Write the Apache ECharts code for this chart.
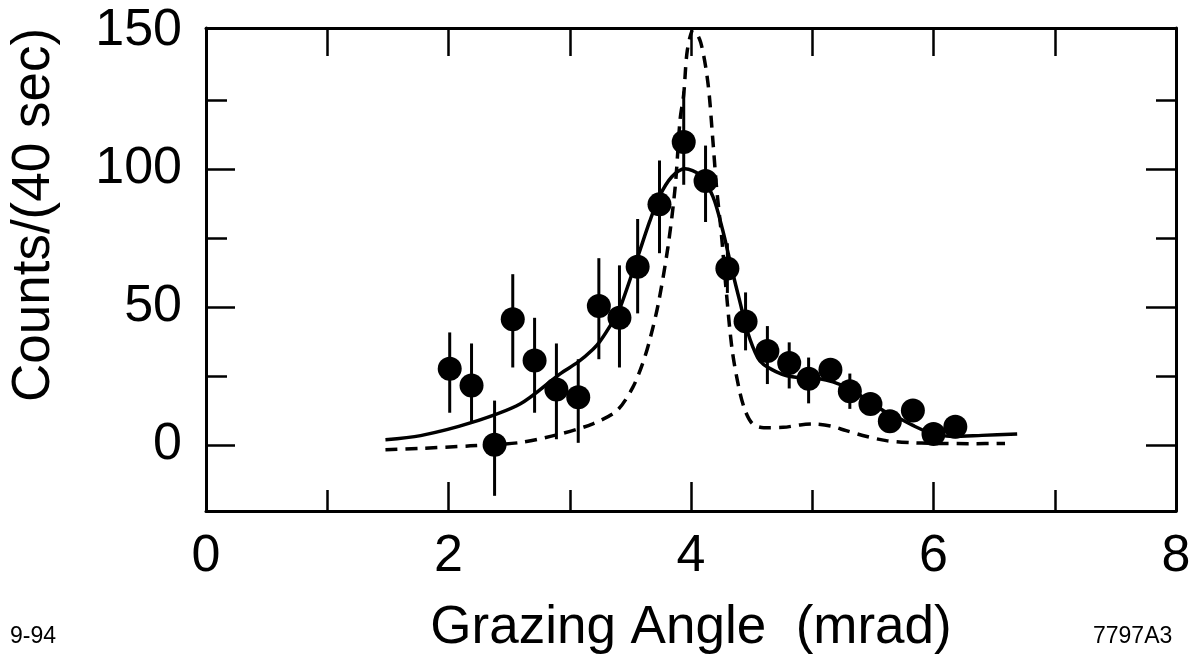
<!DOCTYPE html>
<html>
<head>
<meta charset="utf-8">
<script src="https://cdn.jsdelivr.net/npm/echarts@6/dist/echarts.min.js"></script>
<style>
  html, body { margin: 0; padding: 0; background: #fff; }
  #chart { width: 1198px; height: 663px; }
</style>
</head>
<body>
<div id="chart"></div>
<script>
// measured points
const angle = [2.01, 2.19, 2.38, 2.53, 2.71, 2.89, 3.07, 3.24, 3.41, 3.56, 3.74, 3.94, 4.12, 4.30, 4.45, 4.63, 4.81, 4.97, 5.15, 5.31, 5.48, 5.64, 5.83, 6.00, 6.18];
const counts = [27.5, 21.5, 0, 45.5, 30.5, 20, 17.2, 50.3, 46, 64.5, 87.1, 109.7, 95.6, 63.9, 44.7, 34, 29.6, 23.9, 27.2, 19.4, 14.8, 8.5, 12.4, 3.9, 6.5];
const errLow = [11.6, 8, -18.5, 28, 11.6, 2, 0.7, 31, 28, 47.6, 69.4, 94.2, 80.7, 55, 34.2, 22, 20.4, 15, 23, 13, 11, 5, 9, 1, 3];
const errHigh = [40.7, 36.7, 16, 61.8, 46, 36.7, 31, 67.6, 65, 81.8, 103, 128, 108.4, 73, 55.2, 43, 37.1, 31.6, 31, 25.8, 18.6, 12, 16, 7, 10];

// fitted curve (solid)
const fitX = [1.48, 1.77, 2.18, 2.59, 2.92, 3.07, 3.19, 3.25, 3.36, 3.41, 3.56, 3.66, 3.74, 3.84, 3.95, 4.07, 4.18, 4.26, 4.34, 4.40, 4.47, 4.55, 4.60, 4.70, 4.79, 4.90, 5.06, 5.17, 5.28, 5.40, 5.50, 5.60, 5.72, 5.83, 5.94, 6.05, 6.16, 6.40, 6.69];
const fitY = [1.8, 3.3, 7.9, 14.8, 25.7, 30, 34.5, 37.5, 45, 49, 68, 81, 90, 97, 100, 97.8, 90, 78, 63, 52.4, 40.4, 31.5, 29, 26.5, 25, 24.3, 23.9, 22.8, 20.8, 17.8, 14.9, 12, 9.5, 7, 4.8, 3.5, 3, 3.4, 3.9];

// dashed curve
const dashX = [1.48, 1.77, 2.18, 2.59, 2.92, 3.19, 3.39, 3.52, 3.60, 3.66, 3.73, 3.81, 3.87, 3.91, 3.94, 3.97, 4.02, 4.08, 4.14, 4.18, 4.21, 4.25, 4.29, 4.34, 4.40, 4.45, 4.51, 4.60, 4.76, 4.90, 5.01, 5.15, 5.28, 5.45, 5.61, 5.80, 6.00, 6.30, 6.59];
const dashY = [-1.8, -1.3, -0.4, 0.8, 3.9, 7.6, 12.4, 20.8, 29.3, 38, 51, 71.7, 93.6, 117.8, 127, 143, 150.5, 145.8, 131, 110.5, 93.6, 76.6, 56, 34.2, 19.6, 12, 7.5, 6.2, 6.3, 7.2, 7.5, 6.8, 5.1, 3, 1.5, 0.8, 0.5, 0.4, 0.5];

const xLabels = [0, 2, 4, 6, 8];
const xMajor = [2, 4, 6];
const xMinor = [1, 3, 5, 7];
const xTop = [1, 2, 3, 4, 5, 6, 7];
const yLabels = [0, 50, 100, 150];
const yMajor = [0, 50, 100];
const yMinor = [25, 75, 125];

const chart = echarts.init(document.getElementById('chart'));
const font = '"Liberation Sans", Arial, sans-serif';
const black = '#000';

function xAxisDef(pos, ticks, len, showLabel, show) {
  return {
    type: 'value', min: 0, max: 8, position: pos,
    axisLine: { show: show, onZero: false, lineStyle: { color: black, width: 3 } },
    axisTick: { show: true, inside: true, length: len, customValues: ticks, lineStyle: { color: black, width: 2.5 } },
    axisLabel: { show: showLabel, customValues: xLabels, color: black, fontSize: 52, fontFamily: font, margin: 20 },
    splitLine: { show: false }
  };
}
function yAxisDef(pos, ticks, len, showLabel, show) {
  return {
    type: 'value', min: -24, max: 151, position: pos,
    axisLine: { show: show, onZero: false, lineStyle: { color: black, width: 3 } },
    axisTick: { show: true, inside: true, length: len, customValues: ticks, lineStyle: { color: black, width: 2.5 } },
    axisLabel: { show: showLabel, customValues: yLabels, color: black, fontSize: 52, fontFamily: font, margin: 24 },
    splitLine: { show: false }
  };
}

const option = {
  backgroundColor: '#fff',
  animation: false,
  grid: { left: 206, top: 28, width: 970, height: 483, show: false },
  xAxis: [
    xAxisDef('bottom', xMajor, 29, true, true),
    xAxisDef('bottom', xMinor, 21, false, false),
    xAxisDef('top', xTop, 28, false, true)
  ],
  yAxis: [
    yAxisDef('left', yMajor, 29, true, true),
    yAxisDef('left', yMinor, 21, false, false),
    yAxisDef('right', yMajor, 30, false, true),
    yAxisDef('right', yMinor, 20, false, false)
  ],
  graphic: [
    { type: 'text', x: 691, y: 628, style: { text: 'Grazing Angle  (mrad)', font: '53px ' + font, fill: black, align: 'center', verticalAlign: 'middle' } },
    { type: 'text', x: 34, y: 215, rotation: Math.PI / 2, style: { text: 'Counts/(40 sec)', font: '53px ' + font, fill: black, align: 'center', verticalAlign: 'middle' } },
    { type: 'text', x: 10, y: 637, style: { text: '9-94', font: '23px ' + font, fill: black, verticalAlign: 'middle' } },
    { type: 'text', x: 1093, y: 637, style: { text: '7797A3', font: '23px ' + font, fill: black, verticalAlign: 'middle' } }
  ],
  series: [
    {
      type: 'line', name: 'dashed', symbol: 'none', smooth: 0.3,
      data: dashX.map((x, i) => [x, dashY[i]]),
      lineStyle: { color: black, width: 3.5, type: [12, 8] }
    },
    {
      type: 'line', name: 'fit', symbol: 'none', smooth: 0.3,
      data: fitX.map((x, i) => [x, fitY[i]]),
      lineStyle: { color: black, width: 3.5 }
    },
    {
      type: 'custom', name: 'errors',
      data: angle.map((x, i) => [x, errLow[i], errHigh[i]]),
      renderItem: function (params, api) {
        const a = api.coord([api.value(0), api.value(1)]);
        const b = api.coord([api.value(0), api.value(2)]);
        return { type: 'line', shape: { x1: a[0], y1: a[1], x2: b[0], y2: b[1] }, style: { stroke: black, lineWidth: 3 } };
      },
      z: 3
    },
    {
      type: 'scatter', name: 'data', symbol: 'circle', symbolSize: 24,
      data: angle.map((x, i) => [x, counts[i]]),
      itemStyle: { color: black, opacity: 1 },
      z: 4
    }
  ]
};

chart.setOption(option);
</script>
</body>
</html>
